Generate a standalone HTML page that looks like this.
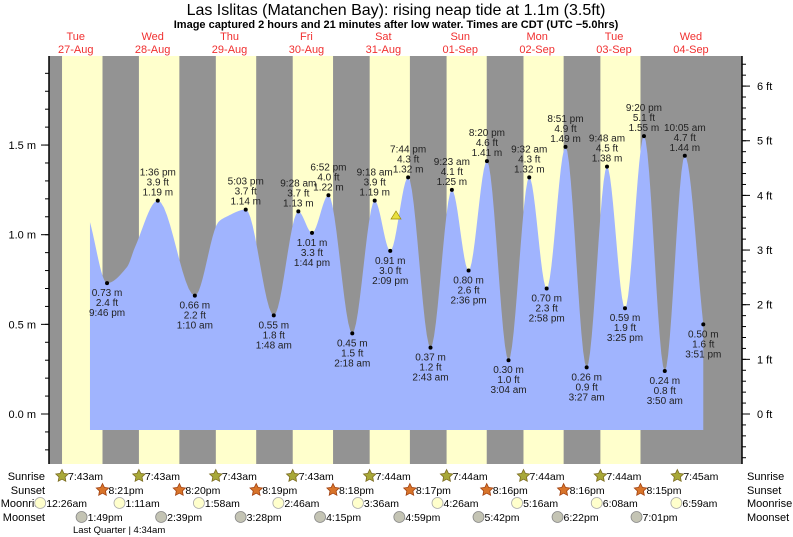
<!DOCTYPE html>
<html><head><meta charset="utf-8"><style>
body{margin:0;background:#fff;}
svg{display:block;font-family:"Liberation Sans",sans-serif;}
</style></head><body>
<svg id="c" width="793" height="537" viewBox="0 0 793 537"></svg>
<script>
// ---- data ----
const dayNames = ["Tue","Wed","Thu","Fri","Sat","Sun","Mon","Tue","Wed"];
const dayDates = ["27-Aug","28-Aug","29-Aug","30-Aug","31-Aug","01-Sep","02-Sep","03-Sep","04-Sep"];
const extTime = ["9:46 pm","1:36 pm","1:10 am","5:03 pm","1:48 am","9:28 am","1:44 pm","6:52 pm","2:18 am","9:18 am","2:09 pm","7:44 pm","2:43 am","9:23 am","2:36 pm","8:20 pm","3:04 am","9:32 am","2:58 pm","8:51 pm","3:27 am","9:48 am","3:25 pm","9:20 pm","3:50 am","10:05 am","3:51 pm"];
const extDayFix = [0,1,2,2,3,3,3,3,4,4,4,4,5,5,5,5,6,6,6,6,7,7,7,7,8,8,8];
const extM = [0.73,1.19,0.66,1.14,0.55,1.13,1.01,1.22,0.45,1.19,0.91,1.32,0.37,1.25,0.80,1.41,0.30,1.32,0.70,1.49,0.26,1.38,0.59,1.55,0.24,1.44,0.50];
const extFt = ["2.4","3.9","2.2","3.7","1.8","3.7","3.3","4.0","1.5","3.9","3.0","4.3","1.2","4.1","2.6","4.6","1.0","4.3","2.3","4.9","0.9","4.5","1.9","5.1","0.8","4.7","1.6"];
const extHigh = [0,1,0,1,0,1,0,1,0,1,0,1,0,1,0,1,0,1,0,1,0,1,0,1,0,1,0];
const shapeT = [0.685,1.167,1.27,2.354,2.458];
const shapeM = [1.07,0.82,0.93,1.07,1.10];
const sunriseTimes = ["7:43am","7:43am","7:43am","7:43am","7:44am","7:44am","7:44am","7:44am","7:45am"];
const sunsetTimes = ["8:21pm","8:20pm","8:19pm","8:18pm","8:17pm","8:16pm","8:16pm","8:15pm"];
const moonriseTimes = ["12:26am","1:11am","1:58am","2:46am","3:36am","4:26am","5:16am","6:08am","6:59am"];
const moonsetTimes = ["1:49pm","2:39pm","3:28pm","4:15pm","4:59pm","5:42pm","6:22pm","7:01pm"];
const mTicks = [0.0,0.5,1.0,1.5];
const ftTicks = [0,1,2,3,4,5,6];

// ---- scales ----
const X0=49, X1=742, Y0=56, Y1=464, BASE=430;
const day0=37.3, pxDay=76.9;
const x = t => day0 + t*pxDay;
const y = m => 414 - m*179.3;
const yFt = f => y(f*0.3048);
function parseT(s){const mm=s.trim().match(/(\d+):(\d+)\s*(am|pm)/);let h=+mm[1]%12;if(mm[3]=="pm")h+=12;return (h+ +mm[2]/60)/24;}

const S=document.getElementById('c');const NS="http://www.w3.org/2000/svg";
function el(tag,attrs,parent){const e=document.createElementNS(NS,tag);for(const k in attrs)e.setAttribute(k,attrs[k]);(parent||S).appendChild(e);return e;}
function txt(s,a,parent){const e=el('text',a,parent);e.textContent=s;return e;}

let t1=txt("Las Islitas (Matanchen Bay): rising  neap tide at 1.1m (3.5ft)",{x:396,y:15,"text-anchor":"middle","font-size":"16","xml:space":"preserve"});

let t2=txt("Image captured 2 hours and 21 minutes after low water. Times are CDT (UTC \u22125.0hrs)",{x:396,y:28,"text-anchor":"middle","font-size":"11","font-weight":"bold"});

dayNames.forEach((d,i)=>{
 const g=el('g',{});
 
 txt(d,{x:x(i+0.5),y:40,"text-anchor":"middle","font-size":"11",fill:"#f03030"},g);
 txt(dayDates[i],{x:x(i+0.5),y:53,"text-anchor":"middle","font-size":"11",fill:"#f03030"},g);
});

const bg=el('rect',{x:X0,y:Y0,width:X1-X0,height:Y1-Y0,fill:"#939393"});

function timeT(s){return parseT(s.replace(/(am|pm)/," $1"));}
for(let i=0;i<8;i++){
 const a=x(i+timeT(sunriseTimes[i])), b=x(i+timeT(sunsetTimes[i]));
 const r=el('rect',{x:a,y:Y0,width:b-a,height:Y1-Y0,fill:"#ffffcc"});
 
}

let pts=[];
extTime.forEach((s,i)=>pts.push({t:extDayFix[i]+parseT(s),m:extM[i]}));
shapeT.forEach((t,i)=>pts.push({t:t,m:shapeM[i]}));
pts.sort((a,b)=>a.t-b.t);
const n=pts.length, d=[], mk=[];
for(let i=0;i<n-1;i++)d.push((pts[i+1].m-pts[i].m)/(pts[i+1].t-pts[i].t));
for(let i=0;i<n;i++){
 if(i==0)mk.push(d[0]);else if(i==n-1)mk.push(d[n-2]);
 else mk.push(d[i-1]*d[i]<=0?0:2/(1/d[i-1]+1/d[i]));
}
let path=`M${x(pts[0].t)},${BASE} L${x(pts[0].t)},${y(pts[0].m)}`;
for(let i=0;i<n-1;i++){
 const h=pts[i+1].t-pts[i].t;
 for(let k=1;k<=12;k++){
  const s=k/12,h00=2*s*s*s-3*s*s+1,h10=s*s*s-2*s*s+s,h01=-2*s*s*s+3*s*s,h11=s*s*s-s*s;
  const v=h00*pts[i].m+h10*h*mk[i]+h01*pts[i+1].m+h11*h*mk[i+1];
  path+=` L${x(pts[i].t+s*h).toFixed(2)},${y(v).toFixed(2)}`;
 }
}
path+=` L${x(pts[n-1].t)},${BASE} Z`;
const area=el('path',{d:path,fill:"#a0b4fe"});


extTime.forEach((s,i)=>{
 const px=x(extDayFix[i]+parseT(s)), py=y(extM[i]);
 const g=el('g',{"font-size":"10",fill:"#222","text-anchor":"middle"});
 
 el('circle',{cx:px,cy:py,r:2,fill:"#000"},g);
 const mstr=extM[i].toFixed(2)+" m", fstr=extFt[i]+" ft";
 if(extHigh[i]){
  txt(s,{x:px,y:py-25},g);txt(fstr,{x:px,y:py-15},g);txt(mstr,{x:px,y:py-5},g);
 }else{
  txt(mstr,{x:px,y:py+13},g);txt(fstr,{x:px,y:py+23},g);txt(s,{x:px,y:py+33},g);
 }
});
const tri=el('polygon',{points:"396,211 391,219 401,219",fill:"#e8e040",stroke:"#998800","stroke-width":"0.7"});


const ax=el('g',{stroke:"#000"});

el('line',{x1:X0,y1:Y0,x2:X0,y2:Y1,"stroke-width":"1.5"},ax);
el('line',{x1:X1,y1:Y0,x2:X1,y2:Y1,"stroke-width":"1.5"},ax);
for(let v=-0.2;v<=2.01;v+=0.1){const yy=y(v);if(yy<Y0||yy>Y1)continue;el('line',{x1:X0-4,y1:yy,x2:X0,y2:yy,"stroke-width":"1"},ax);}
for(let f=-1;f<=7;f+=0.2){const yy=yFt(f);if(yy<Y0||yy>Y1)continue;el('line',{x1:X1,y1:yy,x2:X1+4,y2:yy,"stroke-width":"1"},ax);}
mTicks.forEach(v=>{
 el('line',{x1:X0-8,y1:y(v),x2:X0,y2:y(v),"stroke-width":"1"},ax);
 const l=txt(v.toFixed(1)+" m",{x:X0-13,y:y(v)+4,"text-anchor":"end","font-size":"11"});
 
});
ftTicks.forEach(f=>{
 el('line',{x1:X1,y1:yFt(f),x2:X1+8,y2:yFt(f),"stroke-width":"1"},ax);
 const l=txt(f+" ft",{x:X1+15,y:yFt(f)+4,"font-size":"11"});
 
});

const rowY=[476,490,503,517];
const rowNames=["Sunrise","Sunset","Moonrise","Moonset"];
rowNames.forEach((r,i)=>{
 const a=txt(r,{x:i==2?46:45,y:rowY[i]+4,"text-anchor":"end","font-size":"11"});
 
 const b=txt(r,{x:747,y:rowY[i]+4,"font-size":"11"});
 
});
function star(cx,cy){let p=[];for(let k=0;k<10;k++){const r=k%2?3.2:6.5,a=-Math.PI/2+k*Math.PI/5;p.push((cx+r*Math.cos(a)).toFixed(1)+","+(cy+r*Math.sin(a)).toFixed(1));}return p.join(" ");}
sunriseTimes.forEach((s,i)=>{const cx=x(i+timeT(s));const g=el('g',{});
 el('polygon',{points:star(cx,rowY[0]),fill:"#a8a838",stroke:"#7a6a20","stroke-width":"0.8"},g);txt(s,{x:cx+6,y:rowY[0]+4,"font-size":"10.5"},g);});
sunsetTimes.forEach((s,i)=>{const cx=x(i+timeT(s));const g=el('g',{});
 el('polygon',{points:star(cx,rowY[1]),fill:"#d8742a",stroke:"#a04010","stroke-width":"0.8"},g);txt(s,{x:cx+6,y:rowY[1]+4,"font-size":"10.5"},g);});
moonriseTimes.forEach((s,i)=>{const cx=x(i+timeT(s))+1.5;const g=el('g',{});
 el('circle',{cx:cx,cy:rowY[2],r:5.5,fill:"#ffffcc",stroke:"#aaa","stroke-width":"0.8"},g);txt(s,{x:cx+6,y:rowY[2]+4,"font-size":"10.5"},g);});
moonsetTimes.forEach((s,i)=>{const cx=x(i+timeT(s));const g=el('g',{});
 el('circle',{cx:cx,cy:rowY[3],r:5.5,fill:"#c4c4b4",stroke:"#888","stroke-width":"0.8"},g);txt(s,{x:cx+6,y:rowY[3]+4,"font-size":"10.5"},g);});
const lq=txt("Last Quarter | 4:34am",{x:73,y:533,"font-size":"9.5"});

</script>
</body></html>
